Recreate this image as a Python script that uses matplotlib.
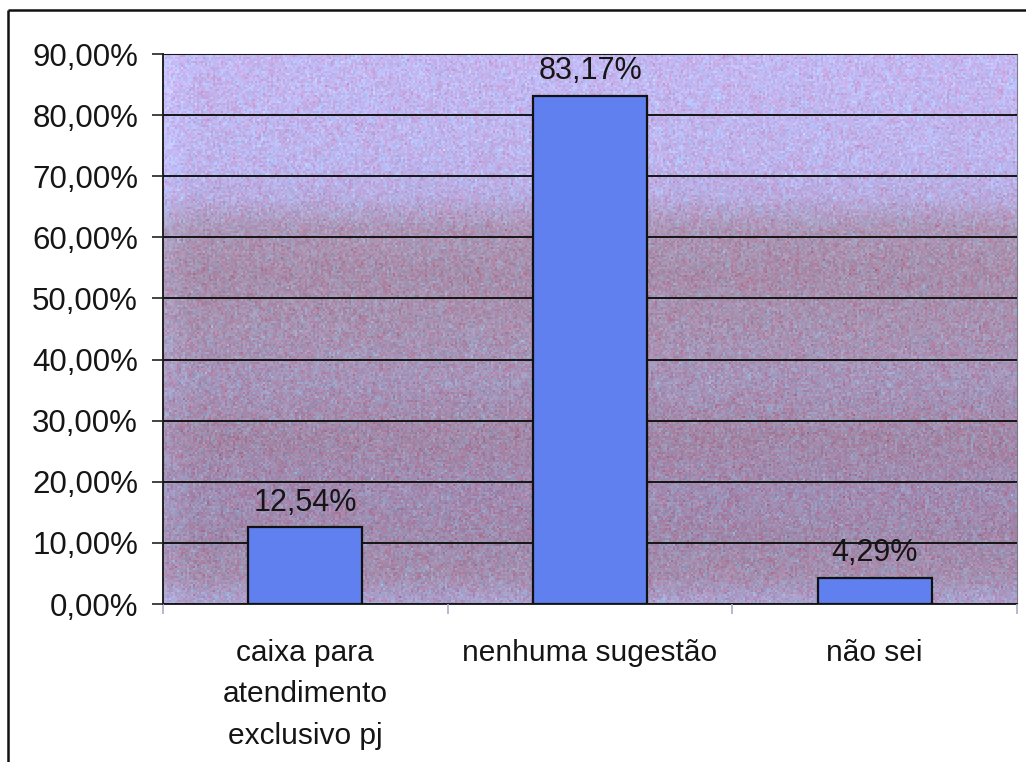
import matplotlib.pyplot as plt
import numpy as np
from matplotlib.lines import Line2D

plt.rcParams['font.family'] = ['Liberation Sans', 'DejaVu Sans']

categories = ["caixa para\natendimento\nexclusivo pj", "nenhuma sugestão", "não sei"]
percent_values = [12.54, 83.17, 4.29]
y_ticks = [0, 10, 20, 30, 40, 50, 60, 70, 80, 90]

bar_color = '#5f80ee'
text_color = '#151515'

fig = plt.figure(figsize=(10.26, 7.62), dpi=100)
ax = fig.add_axes([0.1589, 0.2073, 0.8323, 0.7218])

# speckled lavender/mauve backdrop of the plot area
rows, cols = 275, 427
band_y = [0, 0.05, 0.12, 0.2, 0.3, 0.4, 0.5, 0.6, 0.68, 0.74, 0.8, 1.0]
band_r = [172, 165, 160, 161, 162, 166, 168, 167, 172, 184, 190, 196]
band_g = [160, 142, 138, 140, 136, 148, 146, 142, 150, 172, 180, 184]
band_b = [205, 175, 172, 178, 168, 185, 178, 172, 182, 224, 236, 242]
yy = np.linspace(0, 1, rows)[:, None]
base = np.dstack([np.interp(yy, band_y, c) * np.ones((1, cols)) for c in (band_r, band_g, band_b)])
rng = np.random.default_rng(7)
streak = np.repeat(rng.normal(0, 1, (rows // 4 + 1, cols)), 4, axis=0)[:rows]
speck = 0.6 * streak + rng.normal(0, 1, (rows, cols))
tone = np.array([0.3, -0.6, -0.6])
img = base + 14 * speck[:, :, None] * tone[None, None, :] + 6 * rng.normal(0, 1, (rows, cols, 1))
edge = np.clip(1 - np.arange(cols) / 15, 0, 1)[None, :, None]
img = img + edge * np.array([6, 12, 15])[None, None, :]
img = np.clip(img, 0, 255) / 255
ax.imshow(img, extent=(-0.5, 2.5, 0, 90), origin='lower', aspect='auto',
          interpolation='nearest', zorder=0)

x = np.arange(len(categories))
ax.bar(x, percent_values, width=0.4, color=bar_color, edgecolor='#111111',
       linewidth=1.6, zorder=3)

for xi, val in zip(x, percent_values):
    label = f"{val:.2f}%".replace('.', ',')
    ax.annotate(label, (xi, val), xytext=(0, 7), textcoords='offset points',
                ha='center', va='bottom', fontsize=22, color=text_color, zorder=4)

ax.set_xlim(-0.5, 2.5)
ax.set_ylim(0, 90)
ax.set_yticks(y_ticks)
ax.set_yticklabels([f"{t:.2f}%".replace('.', ',') for t in y_ticks])
ax.yaxis.grid(True, color='#151515', linewidth=1.4)
ax.set_axisbelow(False)
for gl in ax.get_ygridlines():
    gl.set_zorder(1.5)

ax.set_xticks(x)
ax.set_xticklabels(categories, linespacing=1.62)
ax.set_xticks([-0.5, 0.5, 1.5, 2.5], minor=True)
ax.tick_params(axis='x', which='major', length=0, pad=25, labelsize=21.5, labelcolor=text_color)
ax.tick_params(axis='x', which='minor', length=7, width=1.2, color='#a8aec8')
ax.tick_params(axis='y', length=8, width=1.2, color='#222222', pad=10,
               labelsize=22.5, labelcolor=text_color)
for lbl in ax.get_xticklabels():
    lbl.set_verticalalignment('top')

for side in ['left', 'bottom']:
    ax.spines[side].set_color('#222222')
    ax.spines[side].set_linewidth(1.4)
ax.spines['top'].set_color('#555566')
ax.spines['right'].set_color('#7a7a8e')

# outer chart frame (top and left edges only)
fig.add_artist(Line2D([0.008, 1.0], [0.987, 0.987], color='#111111', linewidth=1.8,
                      solid_capstyle='butt', transform=fig.transFigure))
fig.add_artist(Line2D([0.008, 0.008], [0.0, 0.987], color='#111111', linewidth=1.8,
                      solid_capstyle='butt', transform=fig.transFigure))

fig.savefig('out.png', dpi=100, facecolor='white')
